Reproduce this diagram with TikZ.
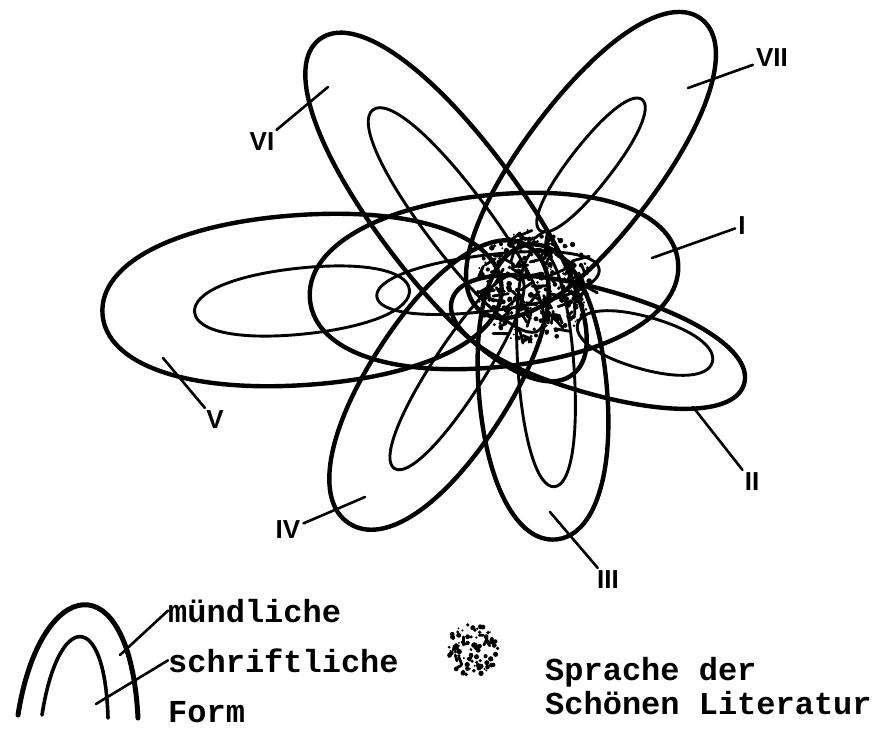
\documentclass[tikz,border=0pt]{standalone}
\usepackage{fontspec}
\setmonofont{Liberation Mono}
\newfontfamily\numfont{Liberation Sans}
\usetikzlibrary{positioning}
\definecolor{Ink}{HTML}{000000}
\definecolor{Paper}{HTML}{FFFFFF}
\tikzset{
  spoken/.style={draw=Ink,line width=4.4pt,line join=round},
  written/.style={draw=Ink,line width=2.9pt,line join=round},
  leader/.style={draw=Ink,line width=2.6pt,line cap=round},
  numeral/.style={font=\numfont\bfseries\fontsize{26}{26}\selectfont,text=Ink,inner sep=3pt},
  legend/.style={font=\ttfamily\bfseries\fontsize{32}{32}\selectfont,text=Ink,inner sep=0pt,anchor=base west},
  blot/.style={draw=Ink,line width=2.8pt,line cap=round}
}
\newcommand{\kp}{0.6}
% loop: style, centre, angle, half length, half width
\newcommand{\petal}[5]{%
  \draw[#1,shift={(#2)},rotate=#3] (#4,0)
    .. controls (#4,{\kp*#5}) and ({\kp*#4},#5) .. (0,#5)
    .. controls ({-\kp*#4},#5) and (-#4,{\kp*#5}) .. (-#4,0)
    .. controls (-#4,{-\kp*#5}) and ({-\kp*#4},-#5) .. (0,-#5)
    .. controls ({\kp*#4},-#5) and (#4,{-\kp*#5}) .. (#4,0) -- cycle;}

\begin{document}
\begin{tikzpicture}[x=1pt,y=-1pt]
  \fill[Paper] (0,0) rectangle (878,734);
  \useasboundingbox (0,0) rectangle (878,734);

  % petals: outer = spoken, inner = written
  \petal{spoken}{494,281}{6}{185}{86}    % I
  \petal{written}{488,283}{7}{112}{28}
  \petal{spoken}{598,342}{-16}{152}{52}  % II
  \petal{written}{645,343}{-16}{70}{26}
  \petal{spoken}{543,392}{-85}{148}{64}  % III
  \petal{written}{546,368}{-86}{119}{28}
  \petal{spoken}{439,385}{57}{165}{70}   % IV
  \petal{written}{457,372}{57}{115}{26}
  \petal{spoken}{302,300}{4}{200}{85}    % V
  \petal{written}{302,301}{6}{108}{33}
  \petal{spoken}{446,207}{-53}{210}{71}  % VI
  \petal{written}{456,220}{-53}{138}{32}
  \petal{spoken}{591,165}{53}{183}{68}   % VII
  \petal{written}{591,165}{52}{83}{21}

  % speckled centre
  \coordinate (globe) at (533,286);
  \pgfmathsetseed{17}
  \foreach \k in {1,...,220}{
    \pgfmathsetmacro{\rad}{58*sqrt(rnd)}
    \pgfmathsetmacro{\ang}{360*rnd}
    \pgfmathsetmacro{\dr}{0.9+2*rnd}
    \fill[Ink] ([shift={(\ang:\rad)}]globe) circle (\dr);
  }
  \foreach \k in {1,...,85}{
    \pgfmathsetmacro{\rad}{54*sqrt(rnd)}
    \pgfmathsetmacro{\ang}{360*rnd}
    \pgfmathsetmacro{\dir}{360*rnd}
    \pgfmathsetmacro{\len}{5+13*rnd}
    \draw[blot] ([shift={(\ang:\rad)}]globe) -- ++(\dir:\len);
  }

  % numerals and leaders
  \node[numeral] (nI) at (742,226) {I};
  \node[numeral] (nII) at (752,482) {II};
  \node[numeral] (nIII) at (608,580) {III};
  \node[numeral] (nIV) at (288,530) {IV};
  \node[numeral] (nV) at (215,420) {V};
  \node[numeral] (nVI) at (262,142) {VI};
  \node[numeral] (nVII) at (772,58) {VII};
  \coordinate (pI) at (652,258);
  \coordinate (pII) at (693,407);
  \coordinate (pIII) at (550,512);
  \coordinate (pIV) at (365,497);
  \coordinate (pV) at (163,358);
  \coordinate (pVI) at (328,87);
  \coordinate (pVII) at (688,88);
  \draw[leader] (nI) -- (pI);
  \draw[leader] (nII) -- (pII);
  \draw[leader] (nIII) -- (pIII);
  \draw[leader] (nIV) -- (pIV);
  \draw[leader] (nV) -- (pV);
  \draw[leader] (nVI) -- (pVI);
  \draw[leader] (nVII) -- (pVII);

  % legend
  \draw[spoken,line width=5pt,line cap=round] (18,715) .. controls (40,575) and (130,560) .. (138,718);
  \draw[written,line width=3.6pt,line cap=round] (42,715) .. controls (58,612) and (105,608) .. (108,718);
  \node[legend] (mund) at (168,622) {mündliche};
  \node[legend] (schrift) at (168,672) {schriftliche};
  \node[legend] (form) at (168,722) {Form};
  \coordinate (amund) at (120,655);
  \coordinate (aschrift) at (96,704);
  \draw[leader] (mund.west) -- (amund);
  \draw[leader] (schrift.west) -- (aschrift);
  \coordinate (swatch) at (472,650);
  \foreach \k in {1,...,80}{
    \pgfmathsetmacro{\rad}{26*sqrt(rnd)}
    \pgfmathsetmacro{\ang}{360*rnd}
    \pgfmathsetmacro{\dr}{0.9+1.8*rnd}
    \fill[Ink] ([shift={(\ang:\rad)}]swatch) circle (\dr);
  }
  \foreach \k in {1,...,12}{
    \pgfmathsetmacro{\rad}{20*sqrt(rnd)}
    \pgfmathsetmacro{\ang}{360*rnd}
    \pgfmathsetmacro{\dir}{360*rnd}
    \pgfmathsetmacro{\len}{3+6*rnd}
    \draw[blot] ([shift={(\ang:\rad)}]swatch) -- ++(\dir:\len);
  }
  \node[legend] (lit1) at (545,680) {Sprache der};
  \node[legend] (lit2) at ([yshift=-34pt]lit1.base west) {Schönen Literatur};
\end{tikzpicture}
\end{document}
